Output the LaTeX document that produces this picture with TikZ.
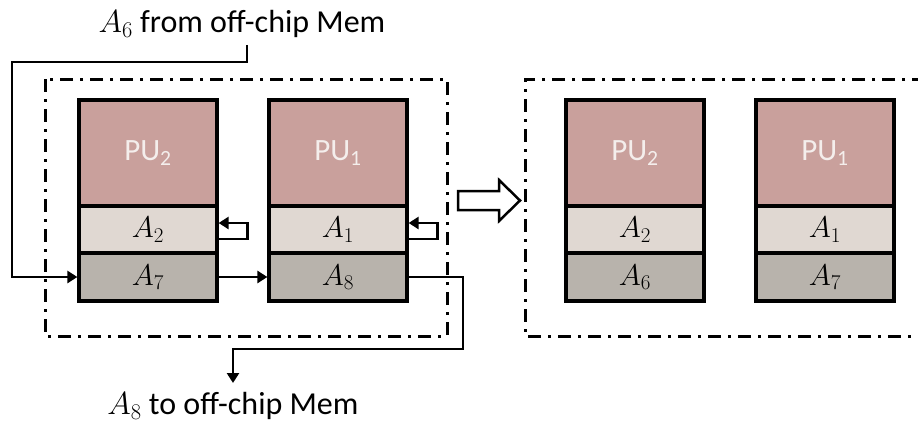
\documentclass[tikz,border=0pt]{standalone}
\usepackage{fix-cm}
\usepackage[no-math]{fontspec}
\setmainfont{Carlito}
\usetikzlibrary{arrows.meta}
\definecolor{pucol}{HTML}{C9A09C}
\definecolor{acol}{HTML}{E0D8D2}
\definecolor{bcol}{HTML}{B8B3AC}
\definecolor{putext}{HTML}{F4EEEC}
\tikzset{
  blk/.style={draw=black, line width=3.2pt, minimum width=138pt, inner sep=0pt},
  pubox/.style={blk, fill=pucol, minimum height=106pt, text=putext, font=\fontsize{31}{36}\selectfont},
  abox/.style={blk, fill=acol, minimum height=47pt, font=\fontsize{30}{36}\selectfont},
  bbox/.style={blk, fill=bcol, minimum height=48pt, font=\fontsize{30}{36}\selectfont},
  frame/.style={line width=3pt, dash pattern=on 13pt off 7pt on 3pt off 7pt},
  conn/.style={line width=2.6pt, -{Triangle[length=10pt,width=12pt]}},
  lbl/.style={font=\fontsize{32}{38}\selectfont, inner sep=0pt},
}
\begin{document}
\begin{tikzpicture}[x=1pt,y=-1pt]
\useasboundingbox (0,0) rectangle (918,428);
% frames
\draw[frame] (45,79) rectangle (447,336);
\draw[frame] (925,79) -- (525,79) -- (525,336) -- (925,336);
% left columns
\node[pubox] (PU2L) at (148,153) {PU\textsubscript{2}};
\node[abox] (A2L) at (148,229.5) {$A_2$};
\node[bbox] (A7L) at (148,277) {$A_7$};
\node[pubox] (PU1L) at (338,153) {PU\textsubscript{1}};
\node[abox] (A1L) at (338,229.5) {$A_1$};
\node[bbox] (A8L) at (338,277) {$A_8$};
% right columns
\node[pubox] (PU2R) at (635,153) {PU\textsubscript{2}};
\node[abox] (A2R) at (635,229.5) {$A_2$};
\node[bbox] (A6R) at (635,277) {$A_6$};
\node[pubox] (PU1R) at (825,153) {PU\textsubscript{1}};
\node[abox] (A1R) at (825,229.5) {$A_1$};
\node[bbox] (A7R) at (825,277) {$A_7$};
% texts
\node[lbl] (t6) at (242,24) {$A_6$ from off-chip Mem};
\node[lbl] (t8) at (233,406) {$A_8$ to off-chip Mem};
% connectors
\coordinate (s6) at (247,45);
\coordinate (k1) at (12,62);
\draw[conn] (s6) |- (k1) |- (A7L.west);
\draw[conn] (A7L.east) -- (A8L.west);
\coordinate (k2) at (463,349);
\coordinate (e8) at (233,383);
\draw[conn] (A8L.east) -| (k2) -| (e8);
\draw[conn] ([yshift=-9.5pt]A2L.east) -- ++(29,0) -- ++(0,-16) -- ([yshift=6.5pt]A2L.east);
\draw[conn] ([yshift=-9.5pt]A1L.east) -- ++(29,0) -- ++(0,-16) -- ([yshift=6.5pt]A1L.east);
% hollow arrow
\draw[line width=2.5pt, fill=white, line join=miter] (458,191) -- (499,191) -- (499,180) -- (520,200.5) -- (499,221) -- (499,210) -- (458,210) -- cycle;
\end{tikzpicture}
\end{document}
